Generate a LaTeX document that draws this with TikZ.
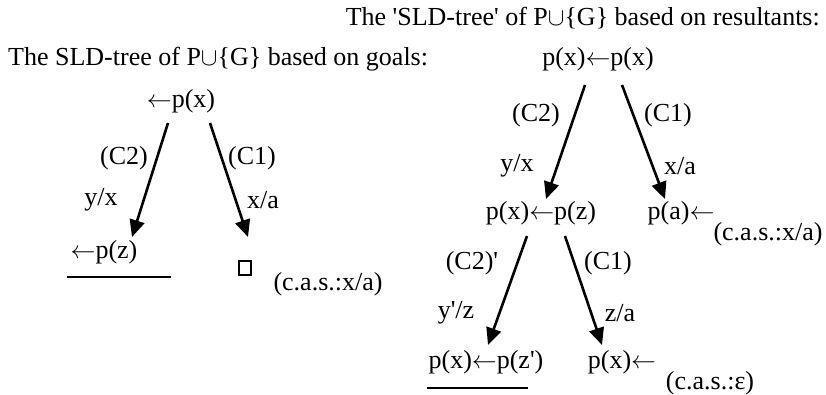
\documentclass[tikz,border=0pt]{standalone}
\usepackage{fontspec}
\setmainfont{Liberation Serif}
\usetikzlibrary{arrows.meta}
\pgfkeys{tikz/sldtext/.style={inner sep=0pt,font=\fontsize{26}{30}\selectfont}}
\pgfkeys{tikz/sldarrow/.style={line width=2.6pt,-{Triangle[length=17pt,width=15pt]}}}
\pgfkeys{tikz/emptybox/.style={draw,line width=1.1pt,minimum width=12pt,minimum height=14pt,inner sep=0pt}}
\newcommand*\sldunion{$\cup$}
\newcommand*\sldarr{\ensuremath{\leftarrow}}
\newcommand*\sldq{\textquotesingle}

\begin{document}
\begin{tikzpicture}[x=1pt,y=-1pt,nodes=sldtext]
\useasboundingbox (0,0) rectangle (826,395);

% titles
\node[anchor=east] (titleR) at (820,18) {The \sldq SLD-tree\sldq{} of P\sldunion\{G\} based on resultants:};
\node[anchor=west] (titleL) at (8,59) {The SLD-tree of P\sldunion\{G\} based on goals:};

% tree based on goals
\node (rootL) at (181,101) {\sldarr p(x)};
\node (goalZ) at (104,252) {\sldarr p(z)};
\node[emptybox] (emptyL) at (245,268) {};
\node (casL) at (328,284) {(c.a.s.:x/a)};

\node (c2L) at (124,158) {(C2)};
\node (c1L) at (252,158) {(C1)};
\node (yxL) at (101,200) {y/x};
\node (xaL) at (263,200) {x/a};

\draw[sldarrow] ([shift={(-13,22)}]rootL.center) -- ([shift={(28,-15)}]goalZ.center);
\draw[sldarrow] ([shift={(29,22)}]rootL.center) -- ([shift={(3,-31)}]emptyL.center);
\draw[line width=1.6pt] (67,277) -- (171,277);

% tree based on resultants
\node (rootR) at (598,59) {p(x)\sldarr p(x)};
\node (midR) at (541,213) {p(x)\sldarr p(z)};
\node (succA) at (681,213) {p(a)\sldarr};
\node (casA) at (768,234) {(c.a.s.:x/a)};
\node (leafR) at (486,362) {p(x)\sldarr p(z\sldq)};
\node (succX) at (622,362) {p(x)\sldarr};
\node (casE) at (710,383) {(c.a.s.:ε)};

\node (c2R) at (536,115) {(C2)};
\node (c1R) at (668,115) {(C1)};
\node (yxR) at (517,166) {y/x};
\node (xaR) at (680,166) {x/a};
\node (c2pR) at (472,263) {(C2)\sldq};
\node (c1pR) at (608,263) {(C1)};
\node (yzR) at (456,313) {y\sldq/z};
\node (zaR) at (620,313) {z/a};

\draw[sldarrow] ([shift={(-13,26)}]rootR.center) -- ([shift={(5,-14)}]midR.center);
\draw[sldarrow] ([shift={(24,26)}]rootR.center) -- ([shift={(-16,-14)}]succA.center);
\draw[sldarrow] ([shift={(-14,23)}]midR.center) -- ([shift={(2,-17)}]leafR.center);
\draw[sldarrow] ([shift={(24,23)}]midR.center) -- ([shift={(-20,-17)}]succX.center);
\draw[line width=1.6pt] (427,388) -- (528,388);

\end{tikzpicture}
\end{document}
